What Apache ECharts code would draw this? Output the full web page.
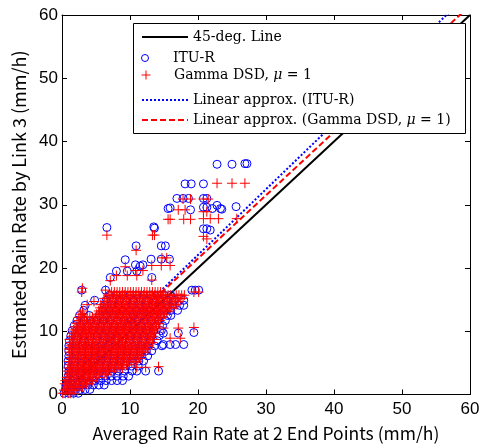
<!DOCTYPE html>
<html><head><meta charset="utf-8">
<script src="https://cdn.jsdelivr.net/npm/echarts@6/dist/echarts.min.js"></script>
<style>html,body{margin:0;padding:0;background:#fff}#c{width:487px;height:447px}</style>
</head><body><div id="c"></div>
<script>
// ---------- data ----------
const xTicks = [0, 10, 20, 30, 40, 50, 60];
const yTicks = [0, 10, 20, 30, 40, 50, 60];

// 45-degree reference line
const diagX = [0, 60];
const diagY = [0, 60];
// linear approximations (end points)
const ituFitX = [0, 60];
const ituFitY = [1.3, 63.6];
const gammaFitX = [0, 60];
const gammaFitY = [1.5, 61.5];

// dense cloud, ITU-R (blue circles): [y, [x...]]
const ituCloudRows = [
  [0.2, [0.3, 1.0, 1.7, 2.4]],
  [0.8, [0.5, 1.2, 1.9, 2.7, 3.4, 4.1]],
  [1.5, [0.6, 1.4, 2.2, 3.0, 3.8, 4.6, 5.4, 6.2]],
  [2.2, [0.8, 1.6, 2.4, 3.2, 4.0, 4.9, 5.7, 6.5, 7.3, 8.1, 8.9]],
  [2.9, [0.9, 1.8, 2.7, 3.6, 4.5, 5.4, 6.3, 7.2, 8.1, 9.0, 9.8]],
  [3.7, [1.0, 1.9, 2.8, 3.7, 4.6, 5.6, 6.5, 7.4, 8.3, 9.2, 10.3, 11.0, 12.3, 14.2]],
  [4.5, [0.9, 1.8, 2.8, 3.7, 4.6, 5.5, 6.5, 7.4, 8.3, 9.3, 10.2, 11.2]],
  [5.3, [0.9, 1.9, 2.8, 3.8, 4.7, 5.7, 6.6, 7.6, 8.5, 9.5, 10.4, 11.3, 12.0]],
  [6.1, [1.0, 1.9, 2.9, 3.8, 4.8, 5.7, 6.7, 7.6, 8.6, 9.5, 10.5, 11.4, 12.6]],
  [6.9, [1.0, 2.0, 2.9, 3.9, 4.8, 5.8, 6.7, 7.7, 8.7, 9.6, 10.6, 11.5, 12.4, 13.2]],
  [7.7, [1.0, 2.0, 3.0, 3.9, 4.9, 5.9, 6.8, 7.8, 8.8, 9.7, 10.7, 11.7, 12.7, 13.6, 14.7]],
  [8.5, [1.1, 2.1, 3.1, 4.0, 5.0, 6.0, 7.0, 7.9, 8.9, 9.9, 10.9, 11.9, 13.0, 14.0]],
  [9.3, [1.3, 2.3, 3.3, 4.2, 5.2, 6.2, 7.2, 8.1, 9.1, 10.1, 11.1, 12.1, 13.2, 14.3]],
  [10.1, [1.5, 2.5, 3.5, 4.5, 5.4, 6.4, 7.4, 8.4, 9.4, 10.4, 11.4, 12.4, 13.5, 14.6]],
  [10.9, [1.8, 2.8, 3.8, 4.8, 5.7, 6.7, 7.7, 8.7, 9.7, 10.7, 11.7, 12.7, 13.8, 14.8]],
  [11.7, [2.2, 3.2, 4.2, 5.1, 6.1, 7.1, 8.1, 9.1, 10.1, 11.1, 12.1, 13.1, 14.2, 15.2]],
  [12.5, [2.6, 4.0, 5.5, 6.5, 7.5, 8.5, 9.5, 10.5, 11.5, 12.5, 13.5, 14.5, 15.5, 16.0]],
  [13.3, [3.2, 6.0, 7.0, 8.0, 9.0, 10.0, 11.0, 12.0, 13.0, 14.0, 15.0, 16.0, 17.0]],
  [14.1, [3.4, 6.3, 7.3, 8.3, 9.3, 10.3, 11.3, 12.3, 13.3, 14.3, 15.3, 16.3, 17.3, 17.9]],
  [14.9, [4.8, 6.5, 7.5, 8.5, 9.5, 10.5, 11.5, 12.5, 13.5, 14.5, 15.5, 16.5, 17.9]],
  [15.7, [7.0, 8.0, 9.0, 10.0, 11.0, 12.0, 13.0, 14.0, 15.0, 16.0]],
  [16.5, [2.9, 6.4, 19.1, 19.6, 20.1]]
];
// scattered ITU-R points outside the cloud: [x, y]
const ituOutliers = [
  [22.8, 36.4], [25.0, 36.4], [26.9, 36.5], [27.2, 36.5],
  [18.1, 33.3], [19.0, 33.3], [20.8, 33.3],
  [16.9, 31.0], [17.8, 31.0], [18.6, 31.0], [20.8, 31.0], [21.3, 31.0],
  [15.6, 29.4], [15.9, 29.5], [18.9, 29.2],
  [20.8, 29.6], [21.3, 29.6], [22.1, 29.4], [22.8, 29.9], [23.3, 29.4], [23.5, 29.3], [25.6, 29.7],
  [6.6, 26.4], [13.5, 26.5], [13.6, 26.3],
  [20.8, 26.2], [21.3, 26.2], [21.8, 26.0],
  [10.9, 23.5], [14.6, 23.5], [15.2, 23.5],
  [9.3, 21.3], [13.1, 21.4], [14.6, 21.4], [15.8, 21.4],
  [10.8, 20.5], [11.5, 20.3], [11.9, 20.5],
  [7.1, 18.5], [8.0, 19.5], [9.6, 19.5], [11.0, 19.5], [13.2, 18.5],
  [14.9, 9.7], [17.1, 9.7], [19.4, 9.8], [14.9, 7.9], [15.9, 7.9], [16.7, 7.9], [17.9, 7.9]
];

// dense cloud, Gamma DSD (red crosses): [y, [x...]]
const gammaCloudRows = [
  [0.2, [0.1, 0.5, 0.9, 1.3, 1.7]],
  [0.7, [0.3, 0.7, 1.1, 1.5, 1.9, 2.3]],
  [1.2, [0.6, 1.0, 1.4, 1.8, 2.2, 2.6, 3.0]],
  [1.7, [0.4, 0.8, 1.2, 1.6, 2.0, 2.4, 2.8, 3.2, 3.6, 4.0]],
  [2.2, [0.5, 0.9, 1.3, 1.7, 2.1, 2.5, 2.9, 3.3, 3.7, 4.1, 4.5]],
  [2.7, [0.7, 1.1, 1.5, 1.9, 2.3, 2.7, 3.1, 3.5, 3.9, 4.3, 4.7, 5.1, 5.5]],
  [3.2, [1.0, 1.4, 1.8, 2.2, 2.6, 3.0, 3.4, 3.8, 4.2, 4.6, 5.0, 5.4, 5.8, 6.2, 6.6]],
  [3.7, [0.8, 1.2, 1.6, 2.0, 2.4, 2.8, 3.2, 3.6, 4.0, 4.4, 4.8, 5.2, 5.6, 6.0, 6.4, 6.8, 7.2, 7.6]],
  [4.2, [0.9, 1.3, 1.7, 2.1, 2.5, 2.9, 3.3, 3.7, 4.1, 4.5, 4.9, 5.3, 5.7, 6.1, 6.5, 6.9, 7.3, 7.7, 8.1, 8.5, 8.9]],
  [4.7, [1.1, 1.5, 1.9, 2.3, 2.7, 3.1, 3.5, 3.9, 4.3, 4.7, 5.1, 5.5, 5.9, 6.3, 6.7, 7.1, 7.5, 7.9, 8.3, 8.7, 9.1, 9.5, 9.9]],
  [5.2, [1.0, 1.4, 1.8, 2.2, 2.6, 3.0, 3.4, 3.8, 4.2, 4.6, 5.0, 5.4, 5.8, 6.2, 6.6, 7.0, 7.4, 7.8, 8.2, 8.6, 9.0, 9.4, 9.8, 10.2, 10.6, 11.0]],
  [5.7, [1.2, 1.6, 2.0, 2.4, 2.8, 3.2, 3.6, 4.0, 4.4, 4.8, 5.2, 5.6, 6.0, 6.4, 6.8, 7.2, 7.6, 8.0, 8.4, 8.8, 9.2, 9.6, 10.0, 10.4, 10.8, 11.2, 11.6]],
  [6.2, [1.3, 1.7, 2.1, 2.5, 2.9, 3.3, 3.7, 4.1, 4.5, 4.9, 5.3, 5.7, 6.1, 6.5, 6.9, 7.3, 7.7, 8.1, 8.5, 8.9, 9.3, 9.7, 10.1, 10.5, 10.9, 11.3, 11.7]],
  [6.7, [1.1, 1.5, 1.9, 2.3, 2.7, 3.1, 3.5, 3.9, 4.3, 4.7, 5.1, 5.5, 5.9, 6.3, 6.7, 7.1, 7.5, 7.9, 8.3, 8.7, 9.1, 9.5, 9.9, 10.3, 10.7, 11.1, 11.5, 11.9, 12.3]],
  [7.2, [1.0, 1.4, 1.8, 2.2, 2.6, 3.0, 3.4, 3.8, 4.2, 4.6, 5.0, 5.4, 5.8, 6.2, 6.6, 7.0, 7.4, 7.8, 8.2, 8.6, 9.0, 9.4, 9.8, 10.2, 10.6, 11.0, 11.4, 11.8, 12.2, 12.6]],
  [7.7, [1.2, 1.6, 2.0, 2.4, 2.8, 3.2, 3.6, 4.0, 4.4, 4.8, 5.2, 5.6, 6.0, 6.4, 6.8, 7.2, 7.6, 8.0, 8.4, 8.8, 9.2, 9.6, 10.0, 10.4, 10.8, 11.2, 11.6, 12.0, 12.4, 12.8]],
  [8.2, [1.3, 1.7, 2.1, 2.5, 2.9, 3.3, 3.7, 4.1, 4.5, 4.9, 5.3, 5.7, 6.1, 6.5, 6.9, 7.3, 7.7, 8.1, 8.5, 8.9, 9.3, 9.7, 10.1, 10.5, 10.9, 11.3, 11.7, 12.1, 12.5, 12.9, 13.3]],
  [8.7, [1.1, 1.5, 1.9, 2.3, 2.7, 3.1, 3.5, 3.9, 4.3, 4.7, 5.1, 5.5, 5.9, 6.3, 6.7, 7.1, 7.5, 7.9, 8.3, 8.7, 9.1, 9.5, 9.9, 10.3, 10.7, 11.1, 11.5, 11.9, 12.3, 12.7, 13.1, 13.5]],
  [9.2, [1.4, 1.8, 2.2, 2.6, 3.0, 3.4, 3.8, 4.2, 4.6, 5.0, 5.4, 5.8, 6.2, 6.6, 7.0, 7.4, 7.8, 8.2, 8.6, 9.0, 9.4, 9.8, 10.2, 10.6, 11.0, 11.4, 11.8, 12.2, 12.6, 13.0, 13.4]],
  [9.7, [1.6, 2.0, 2.4, 2.8, 3.2, 3.6, 4.0, 4.4, 4.8, 5.2, 5.6, 6.0, 6.4, 6.8, 7.2, 7.6, 8.0, 8.4, 8.8, 9.2, 9.6, 10.0, 10.4, 10.8, 11.2, 11.6, 12.0, 12.4, 12.8, 13.2, 13.6]],
  [10.2, [1.7, 2.1, 2.5, 2.9, 3.3, 3.7, 4.1, 4.5, 4.9, 5.3, 5.7, 6.1, 6.5, 6.9, 7.3, 7.7, 8.1, 8.5, 8.9, 9.3, 9.7, 10.1, 10.5, 10.9, 11.3, 11.7, 12.1, 12.5, 12.9, 13.3, 13.7]],
  [10.7, [1.9, 2.3, 2.7, 3.1, 3.5, 3.9, 4.3, 4.7, 5.1, 5.5, 5.9, 6.3, 6.7, 7.1, 7.5, 7.9, 8.3, 8.7, 9.1, 9.5, 9.9, 10.3, 10.7, 11.1, 11.5, 11.9, 12.3, 12.7, 13.1, 13.5, 13.9]],
  [11.2, [2.2, 2.6, 3.0, 3.4, 3.8, 4.2, 4.6, 5.0, 5.4, 5.8, 6.2, 6.6, 7.0, 7.4, 7.8, 8.2, 8.6, 9.0, 9.4, 9.8, 10.2, 10.6, 11.0, 11.4, 11.8, 12.2, 12.6, 13.0, 13.4, 13.8, 14.2]],
  [11.7, [2.4, 2.8, 3.2, 3.6, 4.0, 4.4, 4.8, 5.2, 5.6, 6.0, 6.4, 6.8, 7.2, 7.6, 8.0, 8.4, 8.8, 9.2, 9.6, 10.0, 10.4, 10.8, 11.2, 11.6, 12.0, 12.4, 12.8, 13.2, 13.6, 14.0, 14.4]],
  [12.2, [2.5, 2.9, 3.3, 3.7, 4.1, 4.5, 4.9, 5.3, 5.7, 6.1, 6.5, 6.9, 7.3, 7.7, 8.1, 8.5, 8.9, 9.3, 9.7, 10.1, 10.5, 10.9, 11.3, 11.7, 12.1, 12.5, 12.9, 13.3, 13.7, 14.1, 14.5, 14.9]],
  [12.7, [2.7, 3.1, 5.1, 5.5, 5.9, 6.3, 6.7, 7.1, 7.5, 7.9, 8.3, 8.7, 9.1, 9.5, 9.9, 10.3, 10.7, 11.1, 11.5, 11.9, 12.3, 12.7, 13.1, 13.5, 13.9, 14.3, 14.7, 15.1]],
  [13.2, [3.0, 5.4, 5.8, 6.2, 6.6, 7.0, 7.4, 7.8, 8.2, 8.6, 9.0, 9.4, 9.8, 10.2, 10.6, 11.0, 11.4, 11.8, 12.2, 12.6, 13.0, 13.4, 13.8, 14.2, 14.6, 15.0, 15.4, 15.8]],
  [13.7, [5.6, 6.0, 6.4, 6.8, 7.2, 7.6, 8.0, 8.4, 8.8, 9.2, 9.6, 10.0, 10.4, 10.8, 11.2, 11.6, 12.0, 12.4, 12.8, 13.2, 13.6, 14.0, 14.4, 14.8, 15.2, 15.6, 16.0, 16.4]],
  [14.2, [3.7, 5.7, 6.1, 6.5, 6.9, 7.3, 7.7, 8.1, 8.5, 8.9, 9.3, 9.7, 10.1, 10.5, 10.9, 11.3, 11.7, 12.1, 12.5, 12.9, 13.3, 13.7, 14.1, 14.5, 14.9, 15.3, 15.7, 16.1, 16.5, 16.9]],
  [14.7, [4.7, 6.3, 6.7, 7.1, 7.5, 7.9, 8.3, 8.7, 9.1, 9.5, 9.9, 10.3, 10.7, 11.1, 11.5, 11.9, 12.3, 12.7, 13.1, 13.5, 13.9, 14.3, 14.7, 15.1, 15.5, 15.9, 16.3, 16.7, 17.1]],
  [15.2, [6.2, 6.6, 7.0, 7.4, 7.8, 8.2, 8.6, 9.0, 9.4, 9.8, 10.2, 10.6, 11.0, 11.4, 11.8, 12.2, 12.6, 13.0, 13.4, 13.8, 14.2, 14.6, 15.0, 15.4, 15.8, 16.2, 16.6, 17.0, 17.4, 17.8]],
  [15.7, [6.8, 7.2, 7.6, 8.0, 8.4, 8.8, 9.2, 9.6, 10.0, 10.4, 10.8, 11.2, 11.6, 12.0, 12.4, 12.8, 13.2, 13.6, 14.0, 14.4, 14.8, 15.2, 15.6, 16.0, 16.4, 16.8, 17.2, 17.6, 18.0]],
  [16.2, [2.9, 7.3, 7.7, 8.1, 8.5, 8.9, 9.3, 9.7, 10.1, 10.5, 10.9, 11.3, 11.7, 12.1, 12.5, 12.9, 13.3, 13.7, 14.1, 14.5, 14.9, 19.4, 20.1]]
];
// scattered Gamma DSD points outside the cloud: [x, y]
const gammaOutliers = [
  [22.8, 33.4], [25.0, 33.4], [26.9, 33.4],
  [17.8, 30.9], [18.9, 30.9], [20.8, 30.9], [21.5, 30.9],
  [17.1, 29.2], [18.1, 29.2], [20.8, 28.9], [21.3, 28.9],
  [15.6, 27.7], [15.9, 27.7], [17.9, 27.7], [18.9, 27.7],
  [20.8, 27.8], [21.8, 27.8], [23.0, 27.8], [25.7, 27.8],
  [6.6, 25.2], [13.3, 25.2], [13.6, 25.2],
  [20.8, 25.0], [21.3, 24.6],
  [10.9, 22.8], [14.7, 21.6], [15.4, 21.6],
  [9.3, 20.2], [10.8, 19.6], [11.9, 19.6], [13.2, 20.4], [14.6, 20.4], [15.9, 20.4],
  [7.1, 18.0], [8.0, 18.8], [9.6, 18.8], [11.0, 18.8], [13.2, 18.1],
  [3.0, 16.8], [6.4, 16.5],
  [14.9, 10.5], [17.1, 10.5], [19.4, 10.6], [15.9, 8.9], [17.4, 8.9],
  [11.0, 4.3], [12.3, 4.3], [14.2, 4.4]
];

// ---------- build series data ----------
function rowsToPairs(rows) {
  const out = [];
  rows.forEach(r => r[1].forEach(x => out.push([x, r[0]])));
  return out;
}
const ituData = rowsToPairs(ituCloudRows).concat(ituOutliers);
const gammaData = rowsToPairs(gammaCloudRows).concat(gammaOutliers);
const zip = (xs, ys) => xs.map((x, i) => [x, ys[i]]);

const NAME_DIAG = '45-deg. Line';
const NAME_ITU = 'ITU-R';
const NAME_GAMMA = 'Gamma DSD, μ = 1';
const NAME_FIT_ITU = 'Linear approx. (ITU-R)';
const NAME_FIT_GAMMA = 'Linear approx. (Gamma DSD, μ = 1)';

const PLUS = 'path://M0,5L10,5M5,0L5,10';
const serif = 'DejaVu Serif';
const LFS = 14;
const legendText = {
  color: '#000', fontFamily: serif, fontSize: LFS,
  rich: {
    n: { fontFamily: serif, fontSize: LFS, color: '#000' },
    m: { fontFamily: serif, fontSize: LFS, color: '#000', fontStyle: 'italic' }
  }
};
const fmt = name => name.indexOf('μ') >= 0
  ? name.replace(/^(.*?)μ(.*)$/, (s, a, b) => '{n|' + a + '}{m|μ}{n|' + b + '}')
  : name;

const hiddenSym = { color: 'transparent', borderColor: 'transparent', borderWidth: 0, opacity: 0 };
function lineLegend(name, top) {
  return { data: [name], left: 141, top: top, padding: 0, itemWidth: 46, itemHeight: 14,
    itemStyle: hiddenSym, textStyle: legendText, formatter: fmt, selectedMode: false, z: 20 };
}
function symLegend(name, top, h, style) {
  return { data: [name], left: 141, top: top, padding: 0, itemWidth: 46, itemHeight: h,
    itemStyle: style, textStyle: legendText, formatter: fmt, selectedMode: false, z: 20 };
}

const axisCommon = {
  type: 'value', min: 0, max: 60, interval: 10,
  axisLine: { onZero: false, lineStyle: { color: '#000', width: 1 } },
  axisTick: { inside: true, length: 5, lineStyle: { color: '#000' } },
  splitLine: { show: false }
};
const labelStyle = { color: '#000', fontSize: 17, fontFamily: 'Liberation Sans' };
const nameStyleX = { color: '#000', fontSize: 17.5, fontFamily: 'Noto Sans CJK JP' };
const nameStyleY = { color: '#000', fontSize: 18, fontFamily: 'Noto Sans CJK JP' };

const option = {
  animation: false,
  backgroundColor: '#fff',
  grid: { left: 62, right: 17, top: 15, bottom: 50, containLabel: false },
  xAxis: [
    Object.assign({}, axisCommon, { position: 'bottom',
      axisLabel: Object.assign({ margin: 6, formatter: v => xTicks.indexOf(v) >= 0 ? String(v) : '' }, labelStyle),
      name: 'Averaged Rain Rate at 2 End Points (mm/h)', nameLocation: 'middle', nameGap: 30,
      nameTextStyle: nameStyleX }),
    Object.assign({}, axisCommon, { position: 'top', axisLabel: { show: false } })
  ],
  yAxis: [
    Object.assign({}, axisCommon, { position: 'left',
      axisLabel: Object.assign({ margin: 4, formatter: v => yTicks.indexOf(v) >= 0 ? String(v) : '' }, labelStyle),
      name: 'Estmated Rain Rate by Link 3 (mm/h)', nameLocation: 'middle', nameGap: 27,
      nameTextStyle: nameStyleY }),
    Object.assign({}, axisCommon, { position: 'right', axisLabel: { show: false } })
  ],
  legend: [
    lineLegend(NAME_DIAG, 30),
    symLegend(NAME_ITU, 51, 7, { color: 'transparent', borderColor: '#0000ff', borderWidth: 1 }),
    symLegend(NAME_GAMMA, 68, 9, { color: 'transparent', borderColor: '#ff0000', borderWidth: 1 }),
    lineLegend(NAME_FIT_ITU, 93),
    lineLegend(NAME_FIT_GAMMA, 113)
  ],
  graphic: [{
    type: 'rect', left: 133, top: 23, z: 15,
    shape: { width: 332, height: 110 },
    style: { fill: '#fff', stroke: '#000', lineWidth: 1 }
  }],
  series: [
    { name: NAME_DIAG, type: 'line', data: zip(diagX, diagY), symbol: 'none', z: 1,
      itemStyle: { color: '#000' },
      lineStyle: { color: '#000', width: 2 }, emphasis: { disabled: true } },
    { name: NAME_FIT_ITU, type: 'line', data: zip(ituFitX, ituFitY), symbol: 'none', z: 1,
      itemStyle: { color: '#0000ff' },
      lineStyle: { color: '#0000ff', width: 2, type: [2, 2] }, emphasis: { disabled: true } },
    { name: NAME_FIT_GAMMA, type: 'line', data: zip(gammaFitX, gammaFitY), symbol: 'none', z: 1,
      itemStyle: { color: '#ff0000' },
      lineStyle: { color: '#ff0000', width: 2, type: [6, 3] }, emphasis: { disabled: true } },
    { name: NAME_ITU, type: 'scatter', data: ituData, symbol: 'circle', symbolSize: 8, z: 2,
      itemStyle: { color: 'transparent', borderColor: '#0000ff', borderWidth: 1, opacity: 1 },
      emphasis: { disabled: true } },
    { name: NAME_GAMMA, type: 'scatter', data: gammaData, symbol: PLUS, symbolSize: 10, z: 3,
      itemStyle: { color: 'transparent', borderColor: '#ff0000', borderWidth: 1, opacity: 1 },
      emphasis: { disabled: true } }
  ]
};

const chart = echarts.init(document.getElementById('c'), null, { renderer: 'canvas' });
chart.setOption(option);
</script>
</body></html>
